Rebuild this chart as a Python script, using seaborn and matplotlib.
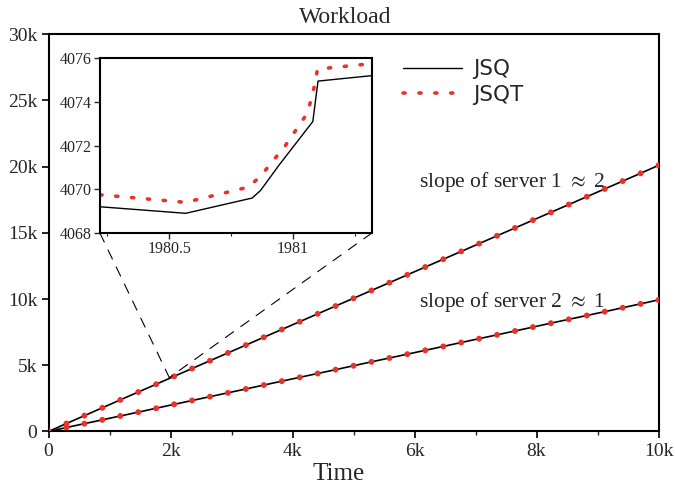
import numpy as np
import pandas as pd
import seaborn as sns
import matplotlib.pyplot as plt
from matplotlib.patches import ConnectionPatch
from matplotlib.ticker import MultipleLocator, FuncFormatter

time = [0, 294, 588, 882, 1176, 1471, 1765, 2059, 2353, 2647, 2941, 3235,
        3529, 3824, 4118, 4412, 4706, 5000, 5294, 5588, 5882, 6176, 6471,
        6765, 7059, 7353, 7647, 7941, 8235, 8529, 8824, 9118, 9412, 9706, 10000]
server1 = [0, 600, 1195, 1790, 2385, 2980, 3570, 4165, 4755, 5345, 5935, 6525,
           7115, 7705, 8295, 8885, 9475, 10060, 10650, 11240, 11830, 12420,
           13010, 13600, 14190, 14780, 15370, 15960, 16550, 17140, 17730,
           18320, 18910, 19500, 20100]
server2 = [0, 300, 590, 880, 1170, 1460, 1755, 2050, 2340, 2630, 2920, 3210,
           3505, 3800, 4090, 4380, 4670, 4965, 5260, 5550, 5840, 6130, 6425,
           6720, 7010, 7300, 7590, 7885, 8180, 8470, 8760, 9050, 9345, 9640, 9940]

# zoomed window around t ~ 1980 (server 1)
zoom_t_jsq = [1980.22, 1980.567, 1980.836, 1980.870, 1980.944, 1981.081, 1981.102, 1981.32]
zoom_w_jsq = [4069.2, 4068.9, 4069.6, 4069.95, 4071.1, 4073.1, 4074.95, 4075.2]
zoom_t_jsqt = [1980.22, 1980.567, 1980.82, 1980.87, 1980.97, 1981.06, 1981.085, 1981.10, 1981.32]
zoom_w_jsqt = [4069.75, 4069.4, 4070.1, 4070.6, 4072.0, 4073.5, 4074.6, 4075.5, 4075.75]
zoom_point = (1980, 4070)

sns.set_theme(style="ticks")
plt.rcParams['font.family'] = ['Liberation Serif', 'DejaVu Serif']
plt.rcParams['mathtext.fontset'] = 'stix'

red = '#e8332b'

fig = plt.figure(figsize=(6.75, 4.87), dpi=100)
ax = fig.add_axes([0.0719, 0.114, 0.9037, 0.8156])

df = pd.DataFrame({"Time": time, "s1": server1, "s2": server2})
for col in ["s1", "s2"]:
    sns.lineplot(data=df, x="Time", y=col, ax=ax, color='black', lw=1.2, zorder=2)
    sns.scatterplot(data=df, x="Time", y=col, ax=ax, color=red, s=18,
                    edgecolor='none', zorder=3)

ax.set_xlim(0, 10000)
ax.set_ylim(0, 30000)
ax.xaxis.set_major_locator(MultipleLocator(2000))
ax.xaxis.set_minor_locator(MultipleLocator(1000))
ax.yaxis.set_major_locator(MultipleLocator(5000))
kfmt = FuncFormatter(lambda v, p: "0" if v == 0 else f"{int(v / 1000)}k")
ax.xaxis.set_major_formatter(kfmt)
ax.yaxis.set_major_formatter(kfmt)
ax.tick_params(axis='both', which='major', labelsize=14, length=5, width=1.2,
               direction='out', color='black', pad=3)
ax.tick_params(axis='x', which='minor', length=3, width=1.0, direction='out')
for s in ax.spines.values():
    s.set_linewidth(1.5)
    s.set_color('black')
ax.set_xlabel("Time", fontsize=18, labelpad=2.5, x=0.476)
ax.set_ylabel("")
ax.set_title("Workload", fontsize=17, pad=8, x=0.486)

ax.text(6080, 18490, r"slope of server 1 $\approx$ 2", fontsize=15.5, va='baseline', ha='left')
ax.text(6080, 9430, r"slope of server 2 $\approx$ 1", fontsize=15.5, va='baseline', ha='left')

# inset
axin = fig.add_axes([0.148, 0.5216, 0.403, 0.359])
l1 = axin.plot(zoom_t_jsq, zoom_w_jsq, color='black', lw=1.0)[0]
l2 = axin.plot(zoom_t_jsqt, zoom_w_jsqt, color=red, lw=2.6,
               linestyle=(0, (0.6, 3.8)), dash_capstyle='round')[0]
axin.set_xlim(1980.22, 1981.32)
axin.set_ylim(4068, 4076)
axin.xaxis.set_major_locator(MultipleLocator(0.5))
axin.xaxis.set_minor_locator(MultipleLocator(0.25))
axin.yaxis.set_major_locator(MultipleLocator(2))
axin.xaxis.set_major_formatter(FuncFormatter(lambda v, p: f"{v:g}"))
axin.tick_params(axis='both', which='major', labelsize=11.5, length=4, width=1.0,
                 direction='out', pad=2)
axin.tick_params(axis='x', which='minor', length=2.5, width=0.8, direction='out')
for s in axin.spines.values():
    s.set_linewidth(1.5)
    s.set_color('black')

for corner in [(0, 0), (1, 0)]:
    con = ConnectionPatch(xyA=corner, coordsA=axin.transAxes, xyB=zoom_point,
                          coordsB=ax.transData, color='black', lw=0.8,
                          linestyle=(0, (9, 8)))
    fig.add_artist(con)

ax.legend(handles=[l1, l2], labels=["JSQ", "JSQT"], loc='upper left',
          bbox_to_anchor=(0.581, 0.937), frameon=False, borderaxespad=0,
          borderpad=0, handlelength=2.75, handletextpad=0.5, labelspacing=0.25,
          prop={'family': 'DejaVu Sans', 'size': 15.5})

fig.savefig("out.png", dpi=100)
